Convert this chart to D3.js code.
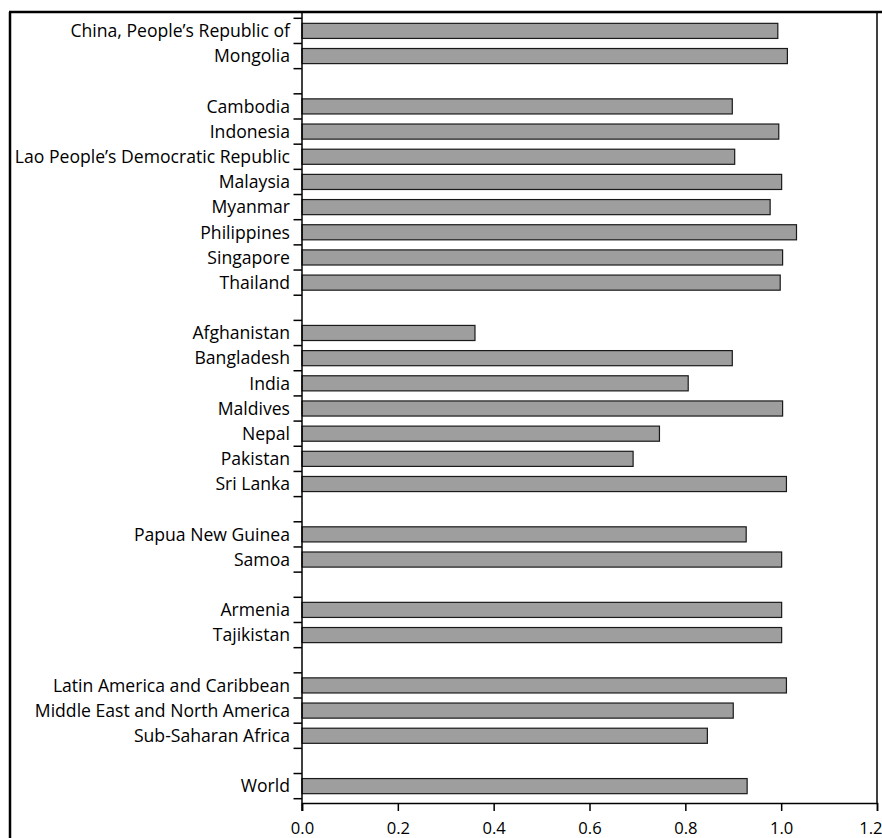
<!DOCTYPE html>
<html>
<head>
<meta charset="utf-8">
<script src="https://cdn.jsdelivr.net/npm/d3@7"></script>
<style>
  html, body { margin: 0; padding: 0; background: #fff; }
  svg { display: block; }
  text { font-family: "Open Sans", "Noto Sans", sans-serif; fill: #000; }
</style>
</head>
<body>
<svg id="chart" width="882" height="838"></svg>
<script>
// Categories (empty strings are spacer rows between groups)
const categories = [
  "China, People\u2019s Republic of", "Mongolia", "",
  "Cambodia", "Indonesia", "Lao People\u2019s Democratic Republic", "Malaysia",
  "Myanmar", "Philippines", "Singapore", "Thailand", "",
  "Afghanistan", "Bangladesh", "India", "Maldives", "Nepal", "Pakistan", "Sri Lanka", "",
  "Papua New Guinea", "Samoa", "",
  "Armenia", "Tajikistan", "",
  "Latin America and Caribbean", "Middle East and North America", "Sub-Saharan Africa", "",
  "World"
];
// Values (null for spacer rows)
const values = [
  0.993, 1.013, null,
  0.898, 0.995, 0.903, 1.001,
  0.977, 1.032, 1.003, 0.998, null,
  0.361, 0.898, 0.806, 1.003, 0.746, 0.691, 1.011, null,
  0.927, 1.001, null,
  1.001, 1.001, null,
  1.011, 0.900, 0.846, null,
  0.929
];
const xTicks = [0.0, 0.2, 0.4, 0.6, 0.8, 1.0, 1.2];

const svg = d3.select("#chart");
const M = { left: 302, right: 877, top: 18.3, bottom: 798.7, axisY: 803, frameTop: 12 };
const FONT = 17.6;

const rows = categories.map((c, i) => ({ i, label: c, value: values[i] }));

const x = d3.scaleLinear().domain([0, 1.2]).range([M.left, M.right]);
const y = d3.scaleBand().domain(rows.map(r => r.i)).range([M.top, M.bottom])
  .paddingInner(0.4).paddingOuter(0.2);

// Outer frame
svg.append("line").attr("x1", 9).attr("x2", 882).attr("y1", M.frameTop).attr("y2", M.frameTop)
  .attr("stroke", "#000").attr("stroke-width", 2.5);
svg.append("line").attr("x1", 10).attr("x2", 10).attr("y1", M.frameTop).attr("y2", 838)
  .attr("stroke", "#000").attr("stroke-width", 2.5);
svg.append("line").attr("x1", M.right).attr("x2", M.right).attr("y1", M.frameTop).attr("y2", M.axisY)
  .attr("stroke", "#000").attr("stroke-width", 1.5);

// Bars
svg.append("g").selectAll("rect")
  .data(rows.filter(r => r.value != null))
  .join("rect")
  .attr("x", x(0))
  .attr("y", d => y(d.i))
  .attr("width", d => x(d.value) - x(0))
  .attr("height", y.bandwidth())
  .attr("fill", "#9e9e9e")
  .attr("stroke", "#1a1a1a")
  .attr("stroke-width", 1.2);

// X axis
const xAxis = svg.append("g").attr("transform", `translate(0,${M.axisY})`)
  .call(d3.axisBottom(x).tickValues(xTicks).tickFormat(d3.format(".1f")).tickSize(8).tickPadding(11));
xAxis.select(".domain").attr("stroke", "#000").attr("stroke-width", 1.5);
xAxis.selectAll(".tick line").attr("stroke", "#000").attr("stroke-width", 1.5);
xAxis.selectAll(".tick text").attr("font-size", FONT - 1).attr("fill", "#000")
  .attr("font-family", "'Open Sans', 'Noto Sans', sans-serif");
// keep the last label inside the picture
xAxis.selectAll(".tick text").filter(d => d === xTicks[xTicks.length - 1])
  .attr("text-anchor", "end").attr("dx", 5);

// Y axis line
svg.append("line").attr("x1", M.left).attr("x2", M.left).attr("y1", M.frameTop).attr("y2", M.axisY + 8)
  .attr("stroke", "#000").attr("stroke-width", 1.5);

// Y boundary ticks (between bands)
const step = y.step();
const bounds = rows.map(r => y(r.i) - step * 0.2);
bounds.push(y(rows[rows.length - 1].i) + y.bandwidth() + step * 0.2);
svg.append("g").selectAll("line").data(bounds).join("line")
  .attr("x1", M.left - 8.5).attr("x2", M.left)
  .attr("y1", d => d).attr("y2", d => d)
  .attr("stroke", "#000").attr("stroke-width", 1.5);

// Category labels
svg.append("g").selectAll("text")
  .data(rows.filter(r => r.label !== ""))
  .join("text")
  .attr("x", M.left - 12)
  .attr("y", d => y(d.i) + y.bandwidth() / 2)
  .attr("dy", "0.36em")
  .attr("text-anchor", "end")
  .attr("font-size", FONT)
  .text(d => d.label);
</script>
</body>
</html>
